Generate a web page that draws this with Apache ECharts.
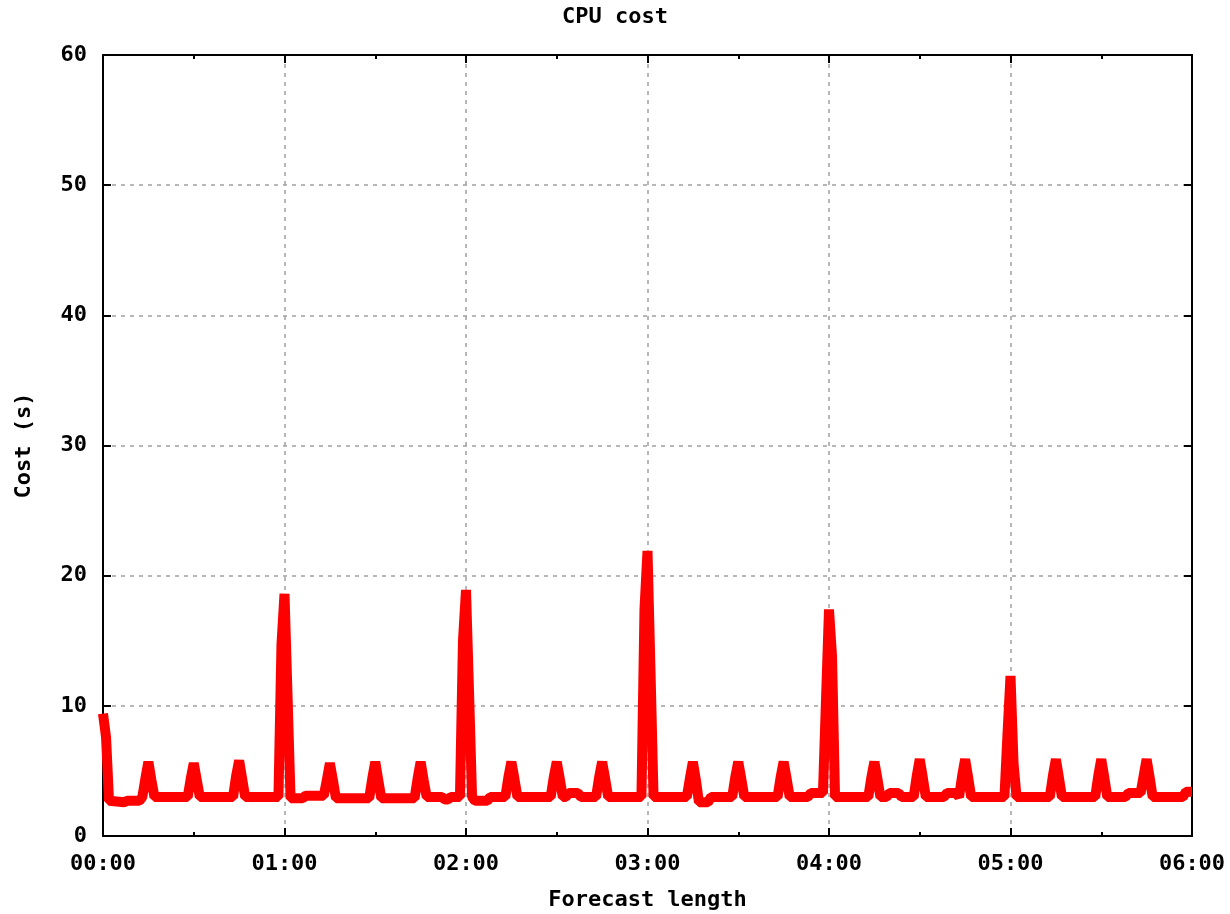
<!DOCTYPE html>
<html>
<head>
<meta charset="utf-8">
<title>CPU cost</title>
<script src="https://cdn.jsdelivr.net/npm/echarts@6/dist/echarts.min.js"></script>
<style>
    html, body { margin: 0; padding: 0; background: #fff; }
    #cpu { width: 1230px; height: 914px; }
</style>
</head>
<body>
<div id="cpu"></div>
<script>
    // forecast length in minutes
    let minutes = [
        0, 1, 2, 7, 8, 12, 13,
        14, 15, 16, 17,
        28, 29, 30, 31, 32,
        43, 44, 45, 46, 47,
        58, 59, 60, 61, 62, 66, 67,
        73, 74, 75, 76, 77,
        88, 89, 90, 91, 92,
        103, 104, 105, 106, 107, 112, 113, 114, 115,
        118, 119, 120, 121, 122, 123, 127, 128,
        133, 134, 135, 136, 137,
        148, 149, 150, 151, 152, 153, 154, 157, 158,
        163, 164, 165, 166, 167,
        178, 179, 180, 181, 182,
        193, 194, 195, 196, 197, 200, 201,
        208, 209, 210, 211, 212,
        223, 224, 225, 226, 227,
        233, 234, 238, 239, 240, 241, 242,
        253, 254, 255, 256, 257, 259, 260, 263, 264,
        268, 269, 270, 271, 272,
        278, 279, 282, 283, 284, 285, 286, 287,
        298, 299, 300, 301, 302,
        313, 314, 315, 316, 317,
        328, 329, 330, 331, 332,
        338, 339, 343, 344, 345, 346, 347,
        357, 358, 360
    ];
    // cost in seconds
    let cost = [
        9.4, 7.6, 2.7, 2.6, 2.7, 2.7, 3.0,
        4.4, 5.7, 4.3, 3.0,
        3.0, 4.4, 5.6, 4.3, 3.0,
        3.0, 4.6, 5.8, 4.4, 3.0,
        3.0, 14.7, 18.6, 10.8, 2.9, 2.9, 3.1,
        3.1, 4.3, 5.6, 4.3, 2.9,
        2.9, 4.4, 5.7, 4.3, 2.9,
        2.9, 4.4, 5.7, 4.3, 3.0, 3.0, 2.8, 2.8, 3.0,
        3.0, 15.0, 18.9, 11.1, 3.0, 2.7, 2.7, 3.0,
        3.0, 4.5, 5.7, 4.4, 3.0,
        3.0, 4.5, 5.7, 4.4, 3.0, 3.0, 3.3, 3.3, 3.0,
        3.0, 4.5, 5.7, 4.4, 3.0,
        3.0, 17.4, 21.9, 12.6, 3.0,
        3.0, 4.4, 5.7, 4.3, 2.6, 2.6, 3.0,
        3.0, 4.5, 5.7, 4.4, 3.0,
        3.0, 4.5, 5.7, 4.4, 3.0,
        3.0, 3.3, 3.3, 10.4, 17.4, 13.8, 3.0,
        3.0, 4.5, 5.7, 4.4, 3.0, 3.0, 3.3, 3.3, 3.0,
        3.0, 4.6, 5.9, 4.5, 3.0,
        3.0, 3.3, 3.3, 3.0, 4.6, 5.9, 4.5, 3.0,
        3.0, 7.8, 12.3, 5.6, 3.0,
        3.0, 4.6, 5.9, 4.5, 3.0,
        3.0, 4.6, 5.9, 4.5, 3.0,
        3.0, 3.3, 3.3, 4.6, 5.9, 4.5, 3.0,
        3.0, 3.4, 3.4
    ];
    let xTicks = ['00:00', '01:00', '02:00', '03:00', '04:00', '05:00', '06:00'];
    let yTicks = [0, 10, 20, 30, 40, 50, 60];

    let font = 'DejaVu Sans Mono';
    let points = minutes.map((m, i) => [m, cost[i]]);
    let text = {fontFamily: font, fontSize: 22, fontWeight: 'bold', color: '#000'};

    let myChart = echarts.init(document.getElementById('cpu'));
    // onZero off, otherwise the mirrored axes jump onto the 0 line
    let frame = {onZero: false, lineStyle: {color: '#000', width: 2}};
    let tick = {inside: true, length: 8, lineStyle: {color: '#000', width: 2}};
    let minor = {show: true, splitNumber: 2, length: 4, lineStyle: {color: '#000', width: 2}};
    let grid = {lineStyle: {color: '#a0a0a0', width: 1.5, type: [4, 5]}};

    let option = {
        backgroundColor: '#fff',
        animation: false,
        title: {
            text: 'CPU cost',
            left: 'center',
            top: 1,
            textStyle: text
        },
        // fixed plot box, don't let the axis names squeeze it
        grid: {left: 103, right: 38, top: 55, bottom: 78, outerBoundsMode: 'none'},
        xAxis: [{
            type: 'value',
            min: 0,
            max: 360,
            interval: 60,
            name: 'Forecast length',
            nameLocation: 'middle',
            nameGap: 53,
            nameTextStyle: text,
            axisLine: frame,
            axisTick: tick,
            minorTick: minor,
            axisLabel: Object.assign({margin: 17, formatter: v => xTicks[v / 60]}, text),
            splitLine: grid
        }, {
            // top border
            type: 'value',
            position: 'top',
            min: 0,
            max: 360,
            interval: 60,
            axisLine: frame,
            axisTick: tick,
            minorTick: minor,
            axisLabel: {show: false},
            splitLine: {show: false}
        }],
        yAxis: [{
            type: 'value',
            min: 0,
            max: 60,
            interval: 10,
            name: 'Cost (s)',
            nameLocation: 'middle',
            nameGap: 68,
            nameRotate: 90,
            nameTextStyle: text,
            axisLine: frame,
            axisTick: tick,
            axisLabel: Object.assign({margin: 16, formatter: v => String(yTicks[v / 10])}, text),
            splitLine: grid
        }, {
            // right border
            type: 'value',
            position: 'right',
            min: 0,
            max: 60,
            interval: 10,
            axisLine: frame,
            axisTick: tick,
            axisLabel: {show: false},
            splitLine: {show: false}
        }],
        series: [{
            name: 'CPU cost',
            type: 'line',
            data: points,
            showSymbol: false,
            clip: false,
            lineStyle: {color: '#ff0000', width: 10, join: 'bevel', cap: 'butt'},
            z: 3
        }]
    };
    myChart.setOption(option);
</script>
</body>
</html>
